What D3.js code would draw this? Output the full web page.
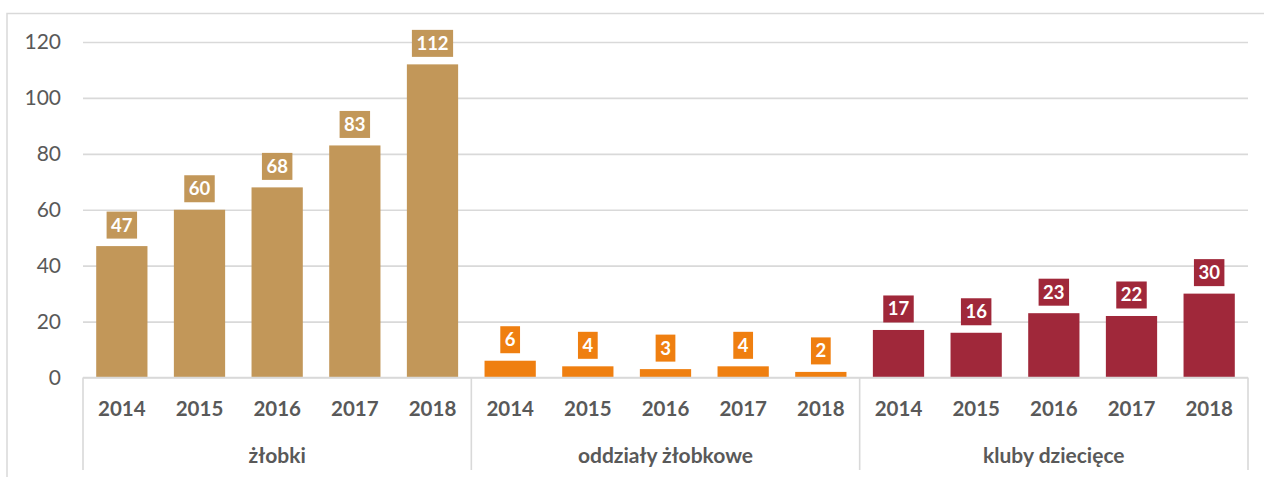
<!DOCTYPE html>
<html>
<head>
<meta charset="utf-8">
<script src="https://cdn.jsdelivr.net/npm/d3@7/dist/d3.min.js"></script>
<style>
  html, body { margin: 0; padding: 0; background: #fff; }
  svg { display: block; }
</style>
</head>
<body>
<svg id="chart" width="1264" height="477"></svg>
<script>
const categories = ["żłobki", "oddziały żłobkowe", "kluby dziecięce"];
const years = ["2014", "2015", "2016", "2017", "2018"];
const zlobki = [47, 60, 68, 83, 112];
const oddzialy = [6, 4, 3, 4, 2];
const kluby = [17, 16, 23, 22, 30];
const yTicks = [0, 20, 40, 60, 80, 100, 120];
const colors = ["#C29759", "#EF7F10", "#A0283A"];

(function () {
const series = [zlobki, oddzialy, kluby];
const rows = [];
categories.forEach((c, ci) => {
  years.forEach((y, yi) => {
    rows.push({ key: c + "|" + y, cat: c, ci, year: y, value: series[ci][yi] });
  });
});

const svg = d3.select("#chart");
const pLeft = 83, pRight = 1248, pTop = 42, pBottom = 377.5;
const gridColor = "#D9D9D9";
const textColor = "#595959";

// outer frame
svg.append("rect")
  .attr("x", 7).attr("y", 13.5)
  .attr("width", 1262).attr("height", 500)
  .attr("fill", "none").attr("stroke", gridColor).attr("stroke-width", 1.5);

const x = d3.scaleBand()
  .domain(rows.map(d => d.key))
  .range([pLeft, pRight])
  .paddingInner(0.34)
  .paddingOuter(0.17);

const y = d3.scaleLinear().domain([0, 120]).range([pBottom, pTop]);

// y axis with gridlines
const yAxis = svg.append("g")
  .attr("transform", `translate(${pLeft},0)`)
  .call(d3.axisLeft(y).tickValues(yTicks).tickSize(-(pRight - pLeft)).tickPadding(22));
yAxis.select(".domain").remove();
yAxis.selectAll(".tick line").attr("stroke", gridColor).attr("stroke-width", 1.6);
yAxis.selectAll(".tick text")
  .attr("fill", textColor)
  .style("font-family", "Lato, 'Open Sans', sans-serif")
  .style("font-size", "21px");

// bars
svg.append("g").selectAll("rect")
  .data(rows).join("rect")
  .attr("x", d => x(d.key))
  .attr("y", d => y(d.value))
  .attr("width", x.bandwidth())
  .attr("height", d => y(0) - y(d.value))
  .attr("fill", d => colors[d.ci]);

// baseline
svg.append("line")
  .attr("x1", pLeft).attr("x2", pRight)
  .attr("y1", y(0)).attr("y2", y(0))
  .attr("stroke", gridColor).attr("stroke-width", 1.6);

// data labels
const lbl = svg.append("g").selectAll("g")
  .data(rows).join("g")
  .attr("transform", d => `translate(${x(d.key) + x.bandwidth() / 2},${y(d.value) - 7.5})`);
lbl.each(function (d) {
  const g = d3.select(this);
  const t = g.append("text")
    .attr("text-anchor", "middle")
    .attr("y", -7)
    .attr("fill", "#fff")
    .style("font-family", "Lato, 'Open Sans', sans-serif")
    .style("font-weight", "bold")
    .style("font-size", "18.5px")
    .text(d.value);
  const w = t.node().getComputedTextLength();
  g.insert("rect", "text")
    .attr("x", -w / 2 - 4.5)
    .attr("y", -27)
    .attr("width", w + 9)
    .attr("height", 27)
    .attr("fill", colors[d.ci]);
});

// x axis year labels
const xAxis = svg.append("g")
  .attr("transform", `translate(0,${pBottom})`)
  .call(d3.axisBottom(x).tickSize(0).tickPadding(24).tickFormat(k => k.split("|")[1]));
xAxis.select(".domain").remove();
xAxis.selectAll(".tick text")
  .attr("fill", textColor)
  .style("font-family", "Lato, 'Open Sans', sans-serif")
  .style("font-weight", "bold")
  .style("font-size", "20.5px");

// category separators
const step = x.step();
const sepX = [0, 5, 10, 15].map(i => pLeft + i * step);
svg.append("g").selectAll("line")
  .data(sepX).join("line")
  .attr("x1", d => d).attr("x2", d => d)
  .attr("y1", pBottom).attr("y2", 470)
  .attr("stroke", gridColor).attr("stroke-width", 1.6);

// category labels
svg.append("g").selectAll("text")
  .data(categories).join("text")
  .attr("x", (d, i) => pLeft + (i * 5 + 2.5) * step)
  .attr("y", 463)
  .attr("text-anchor", "middle")
  .attr("fill", textColor)
  .style("font-family", "Lato, 'Open Sans', sans-serif")
  .style("font-weight", "bold")
  .style("font-size", "21px")
  .text(d => d);
})();
</script>
</body>
</html>
